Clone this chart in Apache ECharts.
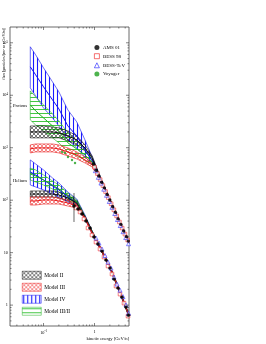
<!DOCTYPE html>
<html><head><meta charset="utf-8">
<script src="https://cdn.jsdelivr.net/npm/echarts@6/dist/echarts.min.js"></script>
<style>html,body{margin:0;padding:0;background:#fff}#c{width:266px;height:344px}</style>
</head><body><div id="c"></div>
<script>
// ---- model energy grid (GeV/n)
const energy = [0.055,0.07,0.1,0.15,0.2,0.3,0.45,0.65,0.9,1.3,2,3,4.7];
// ---- proton models: center / upper / lower
const pII_c  = [2000,2000,2000,2000,1920,1680,1410,991,638,265,105,41.9,15.9];
const pII_u  = [2600,2600,2600,2490,2390,2090,1680,1130,698,277,105,43.8,16.6];
const pII_l  = [1540,1540,1540,1540,1540,1350,1130,869,585,243,101,40.1,15.2];
const pIII_c = [948,991,991,991,948,832,729,585,470,243,101,41.9,15.9];
const pIII_u = [1130,1180,1180,1180,1130,991,832,667,513,254,105,43.8,16.6];
const pIII_l = [796,832,832,832,796,698,611,513,430,232,96.6,40.1,15.2];
const pIV_c  = [34800,24500,14500,8170,5500,2600,1680,908,560,254,101,41.9,15.9];
const pIV_u  = [84000,59000,33300,18000,11600,5260,3100,1410,667,277,105,43.8,16.6];
const pIV_l  = [13800,9750,5750,3700,2600,1410,991,667,491,232,96.6,40.1,15.2];
const pIIIII_c = [6560,5040,3700,2600,2000,1240,948,729,536,254,101,41.9,15.9];
const pIIIII_u = [12100,9310,6560,4420,3250,1920,1350,908,611,265,105,43.8,16.6];
const pIIIII_l = [3390,2720,2090,1540,1240,832,698,585,470,232,96.6,40.1,15.2];
// ---- helium models
const hII_c  = [131,131,131,131,126,110,88.5,47.8,24.7,12.2,5.31,2.02,0.644];
const hII_u  = [150,150,150,150,143,126,96.6,49.9,25.8,12.8,5.55,2.11,0.673];
const hII_l  = [115,115,115,115,110,96.6,80.9,45.7,23.7,11.7,5.08,1.93,0.617];
const hIII_c = [96.6,96.6,101,101,96.6,88.5,77.4,45.7,23.7,12.2,5.31,2.02,0.644];
const hIII_u = [115,115,115,115,110,101,84.5,47.8,24.7,12.8,5.55,2.11,0.673];
const hIII_l = [80.9,80.9,84.5,84.5,84.5,77.4,71.0,43.8,22.6,11.7,5.08,1.93,0.617];
const hIV_c  = [345,303,243,187,157,115,88.5,47.8,24.7,12.2,5.31,2.02,0.644];
const hIV_u  = [585,491,377,265,213,143,105,52.2,25.8,12.8,5.55,2.11,0.673];
const hIV_l  = [195,179,157,131,115,92.5,77.4,43.8,22.6,11.7,5.08,1.93,0.617];
const hIIIII_c = [316,290,243,195,164,120,92.5,47.8,24.7,12.2,5.31,2.02,0.644];
const hIIIII_u = [411,377,303,232,195,137,101,49.9,25.8,12.8,5.55,2.11,0.673];
const hIIIII_l = [243,222,195,164,143,105,84.5,45.7,23.7,11.7,5.08,1.93,0.617];
// ---- data: protons
const amsP_E = [0.95,1.08,1.22,1.38,1.56,1.77,2.0,2.27,2.57,2.91,3.3,3.74,4.24,4.6];
const amsP_F = [491,370,290,219,172,128,101,75.2,59.0,44.1,34.6,25.9,20.2,16.6];
const bess98P_E = [1.0,1.14,1.29,1.46,1.65,1.87,2.12,2.4,2.72,3.08,3.49,3.95,4.47];
const bess98P_F = [427,322,247,190,146,112,85.5,65.6,50.1,38.4,29.4,22.6,17.4];
const bessTeVP_E = [1.04,1.19,1.34,1.52,1.72,1.95,2.2,2.5,2.83,3.2,3.63,4.1,4.65];
const bessTeVP_F = [365,273,212,162,124,94.5,73.3,55.7,42.8,32.9,25.1,19.4,14.8];
const voyP_E = [0.231,0.264,0.302,0.362,0.415];
const voyP_F = [832,796,667,585,513];
// ---- data: helium
const amsHe_E = [0.396,0.475,0.569,0.680,0.816,0.978,1.171,1.403,1.681,2.014,2.413,2.890,3.462,4.146,4.64];
const amsHe_F = [77.4,67.9,54.5,40.1,29.5,19.9,14.6,10.7,7.22,5.08,3.13,2.11,1.42,0.916,0.644];
const amsHe_lo = [38.4,64.5,51.8,38.1,28.0,18.9,13.9,10.2,6.86,4.83,2.97,2.0,1.35,0.87,0.61];
const amsHe_hi = [137,71.3,57.2,42.1,31.0,20.9,15.3,11.2,7.58,5.33,3.29,2.22,1.49,0.96,0.68];
const bess98He_E = [0.434,0.520,0.622,0.746,0.893,1.070,1.282,1.536,1.840,2.204,2.641,3.162,3.788,4.538];
const bess98He_F = [71.0,59.6,43.8,29.5,21.7,15.9,11.7,8.24,5.55,3.91,2.31,1.62,1.09,0.617];
const bessTeVHe_E = [1.070,1.225,1.403,1.607,1.840,2.107,2.413,2.763,3.162,3.621,4.146,4.642];
const bessTeVHe_F = [19.0,15.2,11.7,8.81,6.62,5.08,3.42,2.52,1.93,1.45,1.01,0.703];
// ---- axes
const XMIN = 0.022, XMAX = 4.75, YMIN = 0.4, YMAX = 2e5;

function zip(a, b) { return a.map((v, i) => [v, b[i]]); }

function hatch(kind, color) {
  const c = document.createElement('canvas');
  c.width = 4; c.height = 4;
  const g = c.getContext('2d');
  g.strokeStyle = color; g.lineWidth = kind === 'cross' ? 0.6 : (kind === 'vert' ? 1.1 : 0.9);
  g.beginPath();
  if (kind === 'cross') {
    g.moveTo(0, 0); g.lineTo(4, 4); g.moveTo(4, 0); g.lineTo(0, 4);
    g.moveTo(-1, 3); g.lineTo(1, 5); g.moveTo(3, -1); g.lineTo(5, 1);
    g.moveTo(-1, 1); g.lineTo(1, -1); g.moveTo(3, 5); g.lineTo(5, 3);
  } else if (kind === 'vert') {
    g.moveTo(1.5, 0); g.lineTo(1.5, 4);
  } else {
    g.moveTo(0, 1.5); g.lineTo(4, 1.5);
  }
  g.stroke();
  return { image: c, repeat: 'repeat' };
}
const patII = hatch('cross', '#222');
const patIII = hatch('cross', '#f04040');
const patIV = hatch('vert', '#1a1aff');
const patIIIII = hatch('horiz', '#30c030');
const colII = '#111', colIII = '#e81818', colIV = '#1010f0', colIIIII = '#20b020';
const colB98 = '#f02020', colBTeV = '#2020ff', colVoy = '#20a020';

function band(name, up, lo, pat, col) {
  return {
    type: 'custom', name: name, coordinateSystem: 'cartesian2d', silent: true, clip: true, z: 2,
    itemStyle: { color: col },
    data: [[energy[0], up[0]]],
    renderItem: function (params, api) {
      const pts = [];
      for (let i = 0; i < energy.length; i++) pts.push(api.coord([energy[i], up[i]]));
      for (let i = energy.length - 1; i >= 0; i--) pts.push(api.coord([energy[i], lo[i]]));
      return { type: 'polygon', shape: { points: pts }, style: { fill: pat, stroke: col, lineWidth: 0.6 } };
    }
  };
}
function centre(name, vals, col) {
  return { type: 'line', name: name, data: zip(energy, vals), symbol: 'none', silent: true, z: 3,
    lineStyle: { color: col, width: 1 }, itemStyle: { color: col } };
}

function tickRender(params, api) {
  const ch = [];
  const ln = (x1, y1, x2, y2) => ({ type: 'line', shape: { x1, y1, x2, y2 }, style: { stroke: '#333', lineWidth: 0.6 } });
  const xm = [];
  for (let d = -2; d <= 0; d++) for (let k = 1; k <= 9; k++) { const v = k * Math.pow(10, d); if (v > XMIN && v < XMAX) xm.push([v, k === 1 ? 3 : 1.5]); }
  const ym = [];
  for (let d = -1; d <= 5; d++) for (let k = 1; k <= 9; k++) { const v = k * Math.pow(10, d); if (v > YMIN && v < YMAX) ym.push([v, k === 1 ? 3 : 1.5]); }
  xm.forEach(([v, L]) => { const b = api.coord([v, YMIN]), t = api.coord([v, YMAX]);
    ch.push(ln(b[0], b[1], b[0], b[1] - L)); ch.push(ln(t[0], t[1], t[0], t[1] + L)); });
  ym.forEach(([v, L]) => { const l = api.coord([XMIN, v]), r = api.coord([XMAX, v]);
    ch.push(ln(l[0], l[1], l[0] + L, l[1])); ch.push(ln(r[0], r[1], r[0] - L, r[1])); });
  return { type: 'group', children: ch };
}

function logLabel(v) {
  const lg = Math.log10(v), e = Math.round(lg);
  if (Math.abs(lg - e) > 1e-6) return '';
  if (e === 0) return '1';
  if (e === 1) return '10';
  return '{b|10}{s|' + e + '}';
}
const rich = { b: { fontSize: 4.3, fontFamily: 'Liberation Serif', color: '#000' },
               s: { fontSize: 3, fontFamily: 'Liberation Serif', color: '#000', verticalAlign: 'top', padding: [0, 0, 2, 0] } };
const serif = 'Liberation Serif';

const chart = echarts.init(document.getElementById('c'), null, { renderer: 'canvas' });
chart.setOption({
  animation: false,
  backgroundColor: '#fff',
  grid: { left: 10, right: 137, top: 27, bottom: 18, outerBoundsMode: 'none', containLabel: false,
    show: true, borderColor: '#444', borderWidth: 0.8, backgroundColor: 'transparent' },
  xAxis: { type: 'log', logBase: 10, min: XMIN, max: XMAX,
    axisLine: { show: false }, axisTick: { show: false }, splitLine: { show: false },
    axisLabel: { formatter: logLabel, rich: rich, fontSize: 4.3, fontFamily: serif, color: '#000', margin: 4 },
    name: 'kinetic energy [GeV/n]', nameLocation: 'end', nameGap: 0,
    nameTextStyle: { fontSize: 4.6, fontFamily: serif, color: '#000', align: 'right', verticalAlign: 'top', padding: [10, 0, 0, 0] } },
  yAxis: { type: 'log', logBase: 10, min: YMIN, max: YMAX,
    axisLine: { show: false }, axisTick: { show: false }, splitLine: { show: false },
    axisLabel: { formatter: logLabel, rich: rich, fontSize: 4.3, fontFamily: serif, color: '#000', margin: 2 } },
  legend: [
    { orient: 'vertical', left: 89, top: 40, itemWidth: 5, itemHeight: 5, itemGap: 3.3,
      textStyle: { fontSize: 5, fontFamily: serif, color: '#000', padding: [0, 0, 0, -1.5] },
      data: [
        { name: 'AMS 01', icon: 'circle', itemStyle: { color: '#000', borderWidth: 0 } },
        { name: 'BESS 98', icon: 'rect', itemStyle: { color: '#fff', borderColor: colB98, borderWidth: 0.8 } },
        { name: 'BESS-TeV', icon: 'triangle', itemStyle: { color: '#fff', borderColor: colBTeV, borderWidth: 0.8 } },
        { name: 'Voyager', icon: 'circle', itemStyle: { color: colVoy, borderWidth: 0 } }
      ] },
    { orient: 'vertical', left: 17, top: 266, itemWidth: 19, itemHeight: 8, itemGap: 3.5,
      textStyle: { fontSize: 5.4, fontFamily: serif, color: '#000', padding: [0, 0, 0, -2] },
      data: [
        { name: 'Model II', icon: 'rect', itemStyle: { color: patII, borderColor: colII, borderWidth: 0.5 } },
        { name: 'Model III', icon: 'rect', itemStyle: { color: patIII, borderColor: colIII, borderWidth: 0.5 } },
        { name: 'Model IV', icon: 'rect', itemStyle: { color: patIV, borderColor: colIV, borderWidth: 0.5 } },
        { name: 'Model III/II', icon: 'rect', itemStyle: { color: patIIIII, borderColor: colIIIII, borderWidth: 0.5 } }
      ] }
  ],
  graphic: [
    { type: 'text', x: 1.5, y: 27.5, rotation: Math.PI / 2,
      style: { text: 'flux [particles/(m\u00b2 sr s GeV/n)]', fontSize: 4.2, fontFamily: serif, fill: '#000', align: 'right', verticalAlign: 'top' } },
    { type: 'text', left: 13, top: 103, style: { text: 'Protons', fontSize: 4.6, fontFamily: serif, fill: '#000' } },
    { type: 'text', left: 13, top: 178, style: { text: 'Helium', fontSize: 4.6, fontFamily: serif, fill: '#000' } }
  ],
  series: [
    band('Model IV', pIV_u, pIV_l, patIV, colIV),
    band('Model III/II', pIIIII_u, pIIIII_l, patIIIII, colIIIII),
    band('Model II', pII_u, pII_l, patII, colII),
    band('Model III', pIII_u, pIII_l, patIII, colIII),
    band('Model IV', hIV_u, hIV_l, patIV, colIV),
    band('Model III/II', hIIIII_u, hIIIII_l, patIIIII, colIIIII),
    band('Model II', hII_u, hII_l, patII, colII),
    band('Model III', hIII_u, hIII_l, patIII, colIII),
    centre('Model IV', pIV_c, colIV), centre('Model III/II', pIIIII_c, colIIIII),
    centre('Model II', pII_c, colII), centre('Model III', pIII_c, colIII),
    centre('Model IV', hIV_c, colIV), centre('Model III/II', hIIIII_c, colIIIII),
    centre('Model II', hII_c, colII), centre('Model III', hIII_c, colIII),
    { type: 'scatter', name: 'AMS 01', data: zip(amsP_E, amsP_F).concat(zip(amsHe_E, amsHe_F)), symbol: 'circle', symbolSize: 3.4, z: 7,
      itemStyle: { color: '#000' } },
    { type: 'scatter', name: 'BESS 98', data: zip(bess98P_E, bess98P_F).concat(zip(bess98He_E, bess98He_F)), symbol: 'rect', symbolSize: 3.6, z: 6,
      itemStyle: { color: '#fff', borderColor: colB98, borderWidth: 0.7 } },
    { type: 'scatter', name: 'BESS-TeV', data: zip(bessTeVP_E, bessTeVP_F).concat(zip(bessTeVHe_E, bessTeVHe_F)), symbol: 'triangle', symbolSize: 4, z: 6,
      itemStyle: { color: '#fff', borderColor: colBTeV, borderWidth: 0.7 } },
    { type: 'scatter', name: 'Voyager', data: zip(voyP_E, voyP_F), symbol: 'circle', symbolSize: 2.4, z: 7,
      itemStyle: { color: colVoy } },
    { type: 'custom', name: 'AMS 01 errors', silent: true, z: 7,
      data: amsHe_E.map((e, i) => [e, amsHe_F[i], amsHe_lo[i], amsHe_hi[i]]),
      renderItem: function (params, api) {
        const a = api.coord([api.value(0), api.value(2)]), b = api.coord([api.value(0), api.value(3)]);
        const c = api.coord([api.value(0), api.value(1)]);
        return { type: 'group', children: [
          { type: 'line', shape: { x1: a[0], y1: a[1], x2: b[0], y2: b[1] }, style: { stroke: '#000', lineWidth: 0.6 } },
          { type: 'line', shape: { x1: c[0] - 2, y1: c[1], x2: c[0] + 2, y2: c[1] }, style: { stroke: '#000', lineWidth: 0.6 } }
        ] };
      } },
    { type: 'custom', name: 'ticks', silent: true, z: 10, data: [[1, 1]], renderItem: tickRender }
  ]
});
</script></body></html>
